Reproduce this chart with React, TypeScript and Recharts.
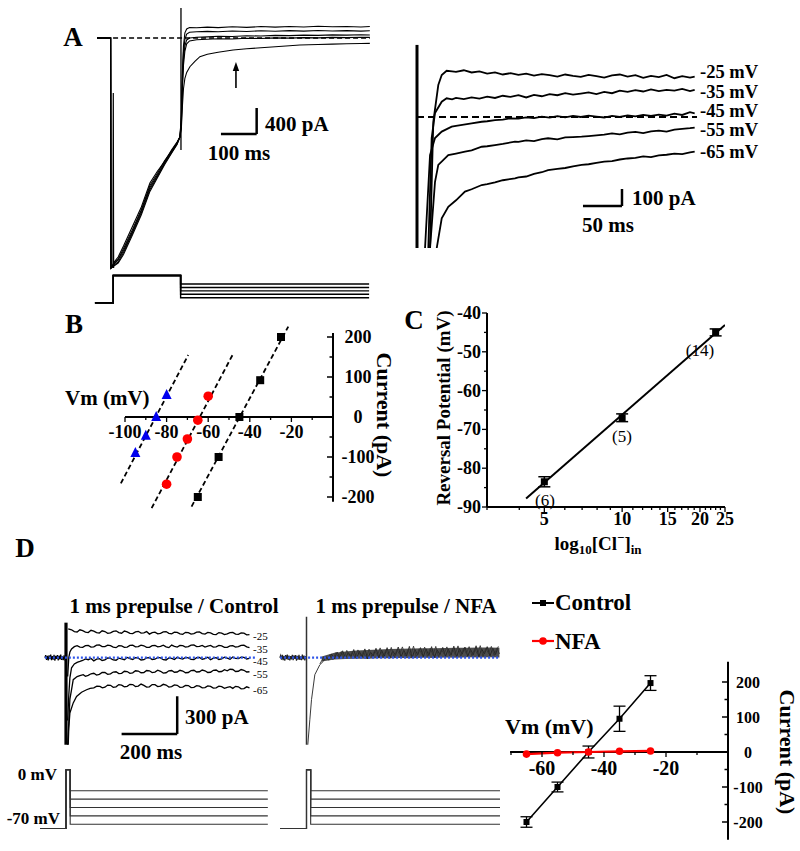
import React from 'react';
import { ComposedChart, XAxis, YAxis, Line, Area, Scatter, ErrorBar, ReferenceLine, ReferenceDot } from 'recharts';

const SERIF = "'Liberation Serif', 'Times New Roman', Times, serif";

// ================= DATA =================
// Panel A (left): whole-cell currents, t in ms, I in pA
const aLeftBaseline = [[-39, 0], [725, 0]];
const aLeft1 = [[-39, 0], [-30, 6], [-20, -5], [-10, 4], [-1, 0], [0, -3540], [10, -3440], [20, -3369], [35, -3200], [60, -2900], [85, -2600], [109, -2230], [130, -2050], [150, -1900], [170, -1720], [185, -1600], [193, -1523], [197, -1200], [200, -520], [203, -120], [207, 80], [212, 140], [220, 162], [240, 158], [270, 168], [300, 160], [340, 172], [380, 164], [420, 176], [460, 168], [500, 178], [540, 170], [580, 180], [620, 172], [660, 178], [700, 170], [725, 176]];
const aLeft2 = [[-39, 0], [-30, -4], [-20, 5], [-10, -3], [-1, 2], [0, -3540], [10, -3460], [20, -3400], [35, -3240], [60, -2950], [85, -2640], [109, -2270], [130, -2080], [150, -1890], [170, -1740], [185, -1610], [193, -1523], [197, -1250], [200, -600], [203, -220], [207, -20], [212, 60], [220, 88], [240, 96], [270, 102], [300, 96], [340, 108], [380, 100], [420, 112], [460, 104], [500, 114], [540, 106], [580, 116], [620, 108], [660, 114], [700, 106], [725, 112]];
const aLeft3 = [[-39, 0], [-25, 3], [-12, -3], [-1, 0], [0, -3540], [10, -3470], [20, -3415], [35, -3270], [60, -2980], [85, -2660], [109, -2300], [130, -2110], [150, -1920], [170, -1730], [185, -1620], [193, -1523], [197, -1300], [200, -700], [203, -330], [207, -120], [212, -30], [220, 0], [240, 12], [270, 18], [300, 26], [340, 22], [380, 34], [420, 30], [460, 40], [500, 36], [540, 44], [580, 40], [620, 48], [660, 44], [700, 50], [725, 46]];
const aLeft4 = [[-39, 0], [-28, -3], [-15, 4], [-1, 0], [0, -3540], [10, -3490], [20, -3446], [35, -3300], [60, -3000], [85, -2690], [109, -2330], [130, -2130], [150, -1930], [170, -1760], [185, -1630], [193, -1523], [197, -1350], [200, -800], [203, -420], [207, -200], [212, -90], [220, -45], [240, -28], [270, -20], [300, -12], [340, -16], [380, -4], [420, -8], [460, 2], [500, -2], [540, 6], [580, 2], [620, 10], [660, 6], [700, 12], [725, 10]];
const aLeft5 = [[-39, 0], [-22, 4], [-8, -3], [-1, 0], [0, -3540], [10, -3500], [20, -3462], [35, -3330], [60, -3030], [85, -2720], [109, -2360], [130, -2150], [150, -1950], [170, -1770], [185, -1640], [193, -1523], [197, -1400], [200, -1050], [203, -780], [207, -620], [212, -530], [221, -442], [235, -360], [249, -288], [270, -250], [300, -220], [342, -185], [380, -165], [420, -150], [460, -135], [500, -120], [529, -108], [580, -100], [620, -94], [660, -88], [700, -84], [725, -82]];
const aLeftArtifact1 = [[5.5, -3540], [6.4, -846], [7.4, -3540]];
const aLeftArtifact2 = [[196, 462], [196, -1723]];
const aArrow = { t: 350, from: -769, to: -480, head: -446 };
const aLeftScale = { t: 308, i: -1477, ms: 100, pA: 400 };

// Panel A protocol (mV)
const aProtoTimes = [-45, 6.4, 195, 723];
const aProtoHold = -80;
const aProtoPre = 0;
const testSteps = [-25, -35, -45, -55, -65];

// Panel A (right): tail currents
const aRightTransient = [[0, 424], [0, -800]];
const aRightBaseline = [[0, 0], [359, 0]];
const aR25 = [[14, -800], [16.7, -771], [20.9, -28], [27.3, 188], [31.7, 247], [38, 272], [45, 268], [50, 265], [60, 275], [70, 262], [80, 268], [90, 255], [100, 262], [110, 250], [120, 258], [130, 248], [140, 255], [150, 243], [160, 252], [170, 246], [180, 238], [190, 250], [200, 242], [210, 236], [220, 248], [230, 240], [240, 232], [250, 245], [260, 250], [270, 238], [280, 246], [290, 230], [300, 242], [310, 235], [320, 248], [330, 228], [340, 240], [350, 232], [356, 238]];
const aR35 = [[12, -800], [14.5, -771], [18.8, -124], [23.1, 24], [31.7, 90], [38, 110], [45, 104], [50, 112], [60, 105], [70, 115], [80, 108], [90, 120], [100, 112], [110, 125], [120, 118], [130, 128], [140, 115], [150, 130], [160, 122], [170, 135], [180, 128], [190, 140], [200, 132], [210, 138], [220, 145], [230, 135], [240, 148], [250, 140], [260, 155], [270, 148], [280, 158], [290, 150], [300, 162], [310, 152], [320, 160], [330, 155], [340, 165], [350, 152], [356, 160]];
const aR45 = [[8, -800], [10.3, -771], [16.7, -224], [23.1, -124], [31.7, -86], [44.5, -57], [50, -52], [60, -45], [70, -38], [83, -28], [90, -25], [100, -18], [110, -15], [120, -8], [130, -10], [140, -2], [150, -6], [160, 2], [170, -4], [180, 5], [190, -2], [200, 6], [210, 0], [220, 8], [230, 2], [240, -3], [250, 6], [260, 0], [270, 10], [280, 4], [290, 12], [300, 6], [310, 14], [320, 8], [330, 20], [340, 12], [350, 28], [356, 22]];
const aR55 = [[14, -800], [16.7, -771], [23.1, -381], [27.3, -282], [40.1, -224], [50, -215], [61.5, -204], [70, -196], [83, -175], [90, -172], [100, -165], [110, -158], [125.6, -145], [130, -146], [140, -138], [150, -142], [160, -130], [168, -125], [180, -132], [190, -120], [200, -118], [211, -116], [220, -112], [230, -108], [240, -104], [250, -96], [260, -102], [270, -92], [280, -88], [290, -95], [300, -84], [310, -80], [320, -86], [330, -74], [340, -70], [350, -66], [356, -62]];
const aR65 = [[24, -800], [25.3, -771], [31.7, -596], [40.1, -528], [50, -490], [61.5, -439], [70, -425], [83, -400], [90, -395], [100, -385], [110, -372], [125.6, -361], [130, -355], [140, -350], [150, -335], [160, -325], [168, -312], [180, -305], [190, -300], [200, -290], [211, -282], [220, -278], [230, -270], [240, -262], [250, -259], [260, -250], [270, -244], [280, -240], [290, -232], [300, -236], [310, -226], [320, -222], [330, -215], [340, -218], [350, -208], [356, -204]];
const aRightLabels = ['-25 mV', '-35 mV', '-45 mV', '-55 mV', '-65 mV'];
const aRightScale = { t: 212.8, i: -523.5, ms: 50, pA: 100 };

// Panel B: I-V relations (Vm mV, I pA)
const bBlack = [[-25, 200], [-35, 92], [-45, 0], [-55, -100], [-65, -200]];
const bRed = [[-60, 52], [-65, -8], [-70, -55], [-75, -100], [-80, -168]];
const bBlue = [[-80, 55], [-85, 0], [-90, -47], [-95, -90]];
const bFitBlack = [[-68, -224], [-21.5, 226]];
const bFitRed = [[-87.2, -228], [-47.9, 159]];
const bFitBlue = [[-102, -166], [-69.6, 155]];
const bXTicks = [-100, -90, -80, -70, -60, -50, -40, -30, -20, -10];
const bYTicks = [-200, -150, -100, -50, 0, 50, 100, 150, 200];

// Panel C: reversal potential vs [Cl-]in
const cConc = [5, 10, 23];
const cErev = [-83.5, -67, -45];
const cErr = [1.3, 1.0, 0.9];
const cN = ['(6)', '(5)', '(14)'];
const cFit = [[4.25, -87.8], [25, -43.1]];
const cXTicks = [3, 4, 5, 6, 7, 8, 9, 10, 11, 12, 13, 14, 15, 16, 17, 18, 19, 20, 21, 22, 23, 24, 25];
const cXMajor = [5, 10, 15, 20, 25];
const cYTicks = [-90, -85, -80, -75, -70, -65, -60, -55, -50, -45, -40];

// Panel D: 1 ms prepulse traces
const dCtrlBase = [[-76, 0], [-73, 20], [-70, -18], [-67, 15], [-64, -22], [-61, 18], [-58, -12], [-55, 24], [-52, -20], [-49, 12], [-46, -16], [-43, 22], [-40, -24], [-37, 14], [-34, -10], [-31, 20], [-28, -22], [-25, 16], [-22, -14], [-19, 24], [-16, -18], [-13, 10], [-10, -20], [-7, 18], [-4, -12], [-1, 6]];
const dCtrlTransient = [[0, 279], [0, -693]];
const dC25 = [[8, 230], [20, 222], [30, 208], [40, 205], [50, 222], [60, 215], [70, 204], [80, 200], [90, 218], [100, 212], [110, 200], [120, 196], [130, 214], [140, 208], [150, 194], [160, 198], [170, 210], [180, 214], [190, 200], [200, 195], [210, 212], [220, 206], [230, 194], [240, 192], [250, 206], [260, 210], [270, 196], [280, 198], [290, 208], [300, 188], [310, 200], [320, 204], [330, 190], [340, 194], [350, 206], [360, 208], [370, 194], [380, 190], [390, 204], [400, 202], [410, 190], [420, 186], [430, 202], [440, 200], [450, 188], [460, 192], [470, 204], [480, 206], [490, 192], [500, 188], [510, 202], [520, 198], [530, 186], [540, 184], [550, 200], [560, 196], [570, 184], [580, 190], [590, 200], [600, 202], [610, 188], [620, 186], [630, 198], [640, 195], [650, 182], [660, 184]];
const dC35 = [[6, -150], [10, 0], [14, 45], [20, 70], [30, 88], [40, 96], [50, 84], [60, 82], [70, 96], [80, 98], [90, 84], [100, 86], [110, 100], [120, 102], [130, 88], [140, 88], [150, 100], [160, 96], [170, 84], [180, 80], [190, 96], [200, 94], [210, 82], [220, 85], [230, 98], [240, 100], [250, 86], [260, 88], [270, 100], [280, 95], [290, 82], [300, 82], [310, 96], [320, 98], [330, 86], [340, 90], [350, 100], [360, 86], [370, 80], [380, 100], [390, 90], [400, 84], [410, 98], [420, 96], [430, 84], [440, 88], [450, 100], [460, 102], [470, 88], [480, 90], [490, 98], [500, 84], [510, 92], [520, 98], [530, 84], [540, 86], [550, 98], [560, 94], [570, 82], [580, 82], [590, 94], [600, 96], [610, 84], [620, 88], [630, 98], [640, 100], [650, 86], [660, 80]];
const dC45 = [[6, -500], [10, -300], [14, -160], [20, -80], [30, -50], [40, -37], [50, -30], [60, -22], [70, -10], [80, -16], [90, -6], [100, -25], [110, -12], [120, -8], [130, -22], [140, -18], [150, -2], [160, -5], [170, -18], [180, -20], [190, -4], [200, -10], [210, -16], [220, 2], [230, -8], [240, -14], [250, 0], [260, -4], [270, -18], [280, -16], [290, -2], [300, 0], [310, -14], [320, -12], [330, 2], [340, -2], [350, -16], [360, -18], [370, -2], [380, -6], [390, -14], [400, 4], [410, -6], [420, -10], [430, 2], [440, -2], [450, -14], [460, -15], [470, 0], [480, 2], [490, -12], [500, -8], [510, 4], [520, -16], [530, -4], [540, 0], [550, -14], [560, -10], [570, 4], [580, -4], [590, -12], [600, 6], [610, -6], [620, -8], [630, 4], [640, 2], [650, -10], [660, -6]];
const dC55 = [[6, -693], [10, -520], [14, -330], [20, -255], [26, -175], [40, -150], [50, -142], [62, -135], [70, -148], [80, -140], [90, -128], [100, -124], [110, -138], [120, -132], [130, -118], [140, -118], [150, -132], [160, -128], [170, -114], [180, -112], [190, -126], [200, -124], [210, -108], [220, -110], [230, -124], [240, -120], [250, -104], [260, -106], [270, -120], [280, -118], [290, -102], [300, -104], [310, -118], [320, -115], [330, -100], [340, -108], [350, -122], [360, -120], [370, -104], [380, -102], [390, -116], [400, -114], [410, -100], [420, -106], [430, -120], [440, -118], [450, -102], [460, -100], [470, -114], [480, -112], [490, -98], [500, -104], [510, -118], [520, -116], [530, -100], [540, -98], [550, -112], [560, -110], [570, -96], [580, -104], [590, -92], [600, -94], [610, -110], [620, -108], [630, -94], [640, -100], [650, -114], [660, -112]];
const dC65 = [[8, -693], [10, -560], [14, -440], [26, -360], [38, -308], [56, -275], [74, -255], [87, -244], [100, -240], [111, -226], [122, -228], [131, -240], [140, -235], [150, -218], [160, -220], [170, -236], [180, -232], [190, -214], [200, -218], [210, -232], [220, -228], [230, -212], [240, -214], [250, -230], [260, -226], [270, -210], [280, -220], [290, -234], [300, -232], [310, -214], [320, -215], [330, -230], [340, -226], [350, -212], [360, -218], [370, -234], [380, -230], [390, -216], [400, -220], [410, -236], [420, -234], [430, -220], [440, -222], [450, -238], [460, -236], [470, -222], [480, -226], [490, -240], [500, -238], [510, -224], [520, -228], [530, -242], [540, -240], [550, -226], [560, -230], [570, -244], [580, -236], [590, -230], [600, -244], [610, -228], [620, -232], [630, -248], [640, -246], [650, -232], [660, -240]];
const dCtrlZero = [[-76, 0], [680, 0]];
const dTraceLabels = ['-25', '-35', '-45', '-55', '-65'];
const dScale = { t: 200, i: -607, ms: 200, pA: 300 };

const dNfaBase = [[-96, 0], [-93, 18], [-90, -16], [-87, 22], [-84, -20], [-81, 14], [-78, -24], [-75, 20], [-72, -12], [-69, 24], [-66, -18], [-63, 16], [-60, -22], [-57, 12], [-54, -14], [-51, 22], [-48, -20], [-45, 18], [-42, -10], [-39, 20], [-36, -24], [-33, 14], [-30, -16], [-27, 22], [-24, -18], [-21, 10], [-18, -20], [-15, 24], [-12, -14], [-9, 16], [-6, -22], [-3, 12], [-1, -8]];
const dNfaTransient = [[0, 326], [0, -693]];
const dNfa1 = [[4.7, -693], [12, -494], [18, -334], [30, -135], [48, -56], [60, -30], [70, 10], [80, -20], [90, 30], [100, -10], [110, 45], [120, 0], [130, 55], [140, -5], [150, 40], [160, 10], [170, 65], [180, -8], [190, 50], [200, 5], [210, 70], [220, -10], [230, 45], [240, 15], [250, 75], [260, 0], [270, 60], [280, 12], [290, 80], [300, -5], [310, 55], [320, 20], [330, 85], [340, 5], [350, 60], [360, 15], [370, 90], [380, 0], [390, 65], [400, 22], [410, 80], [420, 8], [430, 70], [440, 18], [450, 88], [460, 2], [470, 62], [480, 25], [490, 82], [500, 10], [510, 68], [520, 20], [530, 92], [540, 5], [550, 72], [560, 28], [570, 85], [580, 12], [590, 66], [600, 24], [610, 95], [620, 8], [630, 70], [640, 30], [650, 88], [660, 14], [670, 75], [680, 26], [690, 90]];
const dNfa2 = [[48, -50], [62, 5], [75, -10], [85, 25], [95, -15], [105, 40], [115, 5], [125, 50], [135, -2], [145, 58], [155, 12], [165, 45], [175, 0], [185, 62], [195, 15], [205, 48], [215, -6], [225, 68], [235, 10], [245, 55], [255, 20], [265, 78], [275, 5], [285, 58], [295, 22], [305, 82], [315, 2], [325, 62], [335, 28], [345, 86], [355, 10], [365, 64], [375, 18], [385, 92], [395, 6], [405, 70], [415, 26], [425, 84], [435, 12], [445, 74], [455, 22], [465, 90], [475, 8], [485, 66], [495, 30], [505, 86], [515, 14], [525, 72], [535, 24], [545, 94], [555, 10], [565, 76], [575, 32], [585, 88], [595, 16], [605, 70], [615, 28], [625, 96], [635, 12], [645, 74], [655, 34], [665, 90], [675, 18], [685, 78], [694, 30]];
const dNfaBand = [[55, -30, 10], [100, -15, 40], [140, -10, 50], [180, -8, 58], [220, -8, 62], [260, -5, 66], [300, -4, 70], [340, -2, 72], [380, -4, 74], [420, 0, 76], [460, -2, 76], [500, 2, 78], [540, 0, 80], [580, 4, 80], [620, 2, 82], [660, 4, 82], [694, 2, 80]];
const dNfaZero = [[-95, 0], [696, 0]];

// Panel D protocol (mV)
const dProtoTimesCtrl = [-93, 0, 15, 726];
const dProtoTimesNfa = [-95, 0, 15, 696];
const dProtoHold = -70;
const dProtoPre = 0;

// Panel D: I-V (Control vs NFA)
const dVm = [-65, -55, -45, -35, -25];
const dCtrlI = [-200, -100, 0, 95, 197];
const dCtrlErr = [15, 14, 17, 36, 21];
const dNfaI = [-6, -2, 0, 2, 3];
const dXTicks = [-70, -60, -50, -40, -30, -20, -10];
const dYTicks = [-200, -150, -100, -50, 0, 50, 100, 150, 200];

// ================= HELPERS =================
const toPts = (a: number[][]) => a.map(([t, v]) => ({ t, v }));
const protoSeries = (times: number[], hold: number, pre: number, step: number) => [
  { t: times[0], v: hold }, { t: times[1], v: hold }, { t: times[1], v: pre },
  { t: times[2], v: pre }, { t: times[2], v: step }, { t: times[3], v: step },
];
const xDom = (left: number, width: number, zero: number, k: number): [number, number] => [(left - zero) / k, (left + width - zero) / k];
const yDom = (top: number, height: number, zero: number, k: number): [number, number] => [(zero - top - height) / k, (zero - top) / k];

type Box = { left: number; top: number; width: number; height: number };

function TraceBox({ box, xz, xk, yz, yk, children }: { box: Box; xz: number; xk: number; yz: number; yk: number; children: React.ReactNode }) {
  const xd = xDom(box.left, box.width, xz, xk);
  const yd = yDom(box.top, box.height, yz, yk);
  return (
    <div style={{ position: 'absolute', left: box.left, top: box.top, width: box.width, height: box.height }}>
      <ComposedChart width={box.width} height={box.height} margin={{ top: 0, right: 0, bottom: 0, left: 0 }}>
        <XAxis type="number" dataKey="t" domain={xd} allowDataOverflow hide />
        <YAxis type="number" domain={yd} allowDataOverflow hide />
        {children}
      </ComposedChart>
    </div>
  );
}

const trace = (key: string, data: number[][], stroke = '#000', width = 1.2, dash?: string) => (
  <Line key={key} data={toPts(data)} dataKey="v" type="linear" dot={false} isAnimationActive={false}
    stroke={stroke} strokeWidth={width} strokeDasharray={dash} />
);

const scaleBar = (key: string, s: { t: number; i: number; ms: number; pA: number }, w = 2.5) => [
  <ReferenceLine key={key + 'h'} segment={[{ x: s.t, y: s.i }, { x: s.t + s.ms, y: s.i }]} stroke="#000" strokeWidth={w} ifOverflow="visible" />,
  <ReferenceLine key={key + 'v'} segment={[{ x: s.t + s.ms, y: s.i - 1e-9 }, { x: s.t + s.ms, y: s.i + s.pA }]} stroke="#000" strokeWidth={w} ifOverflow="visible" />,
];

const tf = { fontFamily: SERIF, fontWeight: 700, fill: '#000' } as const;

const makeRightTick = (isMajor: (v: number) => boolean, dx: number, size: number) => (p: any) => {
  const v = p.payload.value;
  const m = isMajor(v);
  return (
    <g>
      <line x1={p.x} x2={p.x - (m ? 6 : 3.5)} y1={p.y} y2={p.y} stroke="#000" strokeWidth={1.5} />
      {m && <text x={p.x + dx} y={p.y} textAnchor="middle" dominantBaseline="central" fontSize={size} {...tf}>{v}</text>}
    </g>
  );
};
const makeBottomTick = (isMajor: (v: number) => boolean, dy: number, size: number) => (p: any) => {
  const v = p.payload.value;
  const m = isMajor(v);
  return (
    <g>
      <line x1={p.x} x2={p.x} y1={p.y} y2={p.y + (m ? 5 : 3)} stroke="#000" strokeWidth={1.3} />
      {m && <text x={p.x} y={p.y + dy} textAnchor="middle" dominantBaseline="central" fontSize={size} {...tf}>{v}</text>}
    </g>
  );
};
const makeLeftTick = (isMajor: (v: number) => boolean, dx: number, size: number) => (p: any) => {
  const v = p.payload.value;
  const m = isMajor(v);
  return (
    <g>
      <line x1={p.x} x2={p.x - (m ? 5 : 3)} y1={p.y} y2={p.y} stroke="#000" strokeWidth={1.3} />
      {m && <text x={p.x - dx} y={p.y} textAnchor="end" dominantBaseline="central" fontSize={size} {...tf}>{v}</text>}
    </g>
  );
};

const squareShape = (s: number, color: string) => (p: any) => <rect x={p.cx - s / 2} y={p.cy - s / 2} width={s} height={s} fill={color} />;
const circleShape = (r: number, color: string) => (p: any) => <circle cx={p.cx} cy={p.cy} r={r} fill={color} />;
const triShape = (s: number, color: string) => (p: any) => (
  <polygon points={`${p.cx},${p.cy - s * 0.6} ${p.cx - s / 2},${p.cy + s * 0.4} ${p.cx + s / 2},${p.cy + s * 0.4}`} fill={color} />
);

function T({ x, y, children, size = 21, bold = true, anchor = 'middle', rotate = 0 }: { x: number; y: number; children: React.ReactNode; size?: number; bold?: boolean; anchor?: 'start' | 'middle' | 'end'; rotate?: number }) {
  const tx = anchor === 'middle' ? '-50%' : anchor === 'end' ? '-100%' : '0%';
  return (
    <div style={{
      position: 'absolute', left: x, top: y, transform: `translate(${tx}, -50%)${rotate ? ` rotate(${rotate}deg)` : ''}`,
      fontFamily: SERIF, fontWeight: bold ? 700 : 400, fontSize: size, lineHeight: 1, whiteSpace: 'nowrap', color: '#000',
    }}>{children}</div>
  );
}

// IV chart with axes crossing at (0,0) on right side
function IVChart({ box, xz, xk, yz, yk, yAxisW, xAxisSpan, yAxisSpan, yTicks, yTick, xTicks, xTick, children }: any) {
  const plotW = box.width - yAxisW;
  const xd = xDom(box.left, plotW, xz, xk);
  const yd = yDom(box.top, box.height, yz, yk);
  const pad = 30;
  return (
    <>
      <div style={{ position: 'absolute', left: box.left, top: box.top }}>
        <ComposedChart width={box.width} height={box.height} margin={{ top: 0, right: 0, bottom: 0, left: 0 }}>
          <XAxis type="number" dataKey="t" domain={xd} allowDataOverflow hide />
          <YAxis type="number" orientation="right" width={yAxisW} domain={yd} allowDataOverflow axisLine={false} tickLine={false}
            tickSize={0} tickMargin={0} ticks={yTicks} interval={0} tick={yTick} />
          <ReferenceLine segment={[{ x: 0, y: yAxisSpan[0] }, { x: 0, y: yAxisSpan[1] }]} stroke="#000" strokeWidth={2} ifOverflow="visible" />
          <ReferenceLine segment={[{ x: xAxisSpan[0], y: 0 }, { x: xAxisSpan[1], y: 0 }]} stroke="#000" strokeWidth={2} ifOverflow="visible" />
          {children}
        </ComposedChart>
      </div>
      <div style={{ position: 'absolute', left: box.left - pad, top: yz - 10 }}>
        <ComposedChart width={plotW + 2 * pad} height={40} margin={{ top: 0, right: pad, bottom: 0, left: pad }}>
          <XAxis type="number" dataKey="t" domain={xd} allowDataOverflow height={30} axisLine={false} tickLine={false}
            tickSize={0} tickMargin={0} ticks={xTicks} interval={0} tick={xTick} />
          <YAxis type="number" domain={[0, 1]} hide />
          <Line data={[{ t: xd[0], v: 0 }, { t: xd[1], v: 0 }]} dataKey="v" stroke="none" dot={false} isAnimationActive={false} />
        </ComposedChart>
      </div>
    </>
  );
}

// ================= APP =================
export default function App() {
  const aLeftTraces = [aLeft1, aLeft2, aLeft3, aLeft4, aLeft5];
  const aRightTraces = [aR25, aR35, aR45, aR55, aR65];
  const dCtrlTraces = [dC25, dC35, dC45, dC55, dC65];
  const bBlackPts = toPts(bBlack), bRedPts = toPts(bRed), bBluePts = toPts(bBlue);
  const cPts = cConc.map((c, i) => ({ t: c, v: cErev[i], e: cErr[i] }));
  const dCtrlPts = dVm.map((v, i) => ({ t: v, v: dCtrlI[i], e: dCtrlErr[i] }));
  const dNfaPts = dVm.map((v, i) => ({ t: v, v: dNfaI[i] }));
  const dNfaBandPts = dNfaBand.map(([t, lo, hi]) => ({ t, r: [lo, hi] }));

  return (
    <div style={{ position: 'absolute', left: 0, top: 0, width: 800, height: 851, background: '#fff', overflow: 'hidden' }}>
      {/* ---------- Panel A left ---------- */}
      <TraceBox box={{ left: 90, top: 0, width: 290, height: 275 }} xz={111} xk={0.357} yz={38} yk={0.065}>
        {trace('abase', aLeftBaseline, '#000', 1.6, '5 3')}
        {aLeftTraces.map((d, i) => trace('al' + i, d, '#000', 1.1))}
        {trace('aart1', aLeftArtifact1, '#000', 1.2)}
        {trace('aart2', aLeftArtifact2, '#000', 1.3)}
        <ReferenceLine segment={[{ x: aArrow.t, y: aArrow.from }, { x: aArrow.t, y: aArrow.to }]} stroke="#000" strokeWidth={1.6} ifOverflow="visible" />
        <ReferenceDot x={aArrow.t} y={aArrow.head} ifOverflow="visible"
          shape={(p: any) => <polygon points={`${p.cx},${p.cy - 5} ${p.cx - 3.2},${p.cy + 4} ${p.cx + 3.2},${p.cy + 4}`} fill="#000" />} />
        {scaleBar('asb', aLeftScale, 2.5)}
      </TraceBox>
      <TraceBox box={{ left: 90, top: 265, width: 290, height: 45 }} xz={111} xk={0.357} yz={275.44} yk={0.3425}>
        {testSteps.map((s, i) => (
          <Line key={'ap' + i} data={protoSeries(aProtoTimes, aProtoHold, aProtoPre, s)} dataKey="v" type="linear" dot={false}
            isAnimationActive={false} stroke="#000" strokeWidth={1.4} />
        ))}
      </TraceBox>
      <T x={73} y={37} size={27}>A</T>
      <T x={265} y={124} anchor="start">400 pA</T>
      <T x={239} y={153}>100 ms</T>

      {/* ---------- Panel A right ---------- */}
      <TraceBox box={{ left: 410, top: 40, width: 290, height: 208 }} xz={417} xk={0.78} yz={117} yk={0.17}>
        {trace('art', aRightTransient, '#000', 3)}
        {aRightTraces.map((d, i) => trace('ar' + i, d, '#000', 1.8))}
        {trace('arb', aRightBaseline, '#000', 2, '7 4')}
        {scaleBar('arsb', aRightScale, 2.5)}
      </TraceBox>
      {aRightLabels.map((l, i) => (
        <T key={l} x={700} y={[72, 92, 111, 130, 152][i]} size={18.5} anchor="start">{l}</T>
      ))}
      <T x={632} y={198} anchor="start">100 pA</T>
      <T x={608} y={225}>50 ms</T>

      {/* ---------- Panel B ---------- */}
      <IVChart box={{ left: 115, top: 323, width: 263, height: 188 }} xz={333} xk={2.08} yz={417} yk={0.4} yAxisW={45}
        xAxisSpan={[-100, 0]} yAxisSpan={[-212, 210]} yTicks={bYTicks} xTicks={bXTicks}
        yTick={makeRightTick((v) => v % 100 === 0, 25, 18)} xTick={makeBottomTick((v) => v % 20 === 0, 15, 18)}>
        {trace('bfb', bFitBlack, '#000', 1.8, '5 3')}
        {trace('bfr', bFitRed, '#000', 1.8, '5 3')}
        {trace('bfu', bFitBlue, '#000', 1.8, '5 3')}
        <Scatter data={bBlackPts} dataKey="v" isAnimationActive={false} shape={squareShape(8, '#000')} />
        <Scatter data={bRedPts} dataKey="v" isAnimationActive={false} shape={circleShape(4.8, '#ff0000')} />
        <Scatter data={bBluePts} dataKey="v" isAnimationActive={false} shape={triShape(10, '#0000ee')} />
      </IVChart>
      <T x={74} y={324} size={27}>B</T>
      <T x={65} y={398} anchor="start">Vm (mV)</T>
      <T x={384} y={415} rotate={90} size={22}>Current (pA)</T>

      {/* ---------- Panel C ---------- */}
      <div style={{ position: 'absolute', left: 430, top: 300 }}>
        <ComposedChart width={310} height={250} margin={{ top: 13, right: 15, bottom: 0, left: 0 }}>
          <XAxis type="number" dataKey="t" scale="log" domain={[3, 25]} allowDataOverflow height={43} ticks={cXTicks} interval={0}
            axisLine={{ stroke: '#000', strokeWidth: 2 }} tickLine={false} tickSize={0} tickMargin={0}
            tick={makeBottomTick((v) => cXMajor.includes(v), 12, 18)} />
          <YAxis type="number" domain={[-90, -40]} allowDataOverflow width={57} ticks={cYTicks} interval={0}
            axisLine={{ stroke: '#000', strokeWidth: 2 }} tickLine={false} tickSize={0} tickMargin={0}
            tick={makeLeftTick((v) => v % 10 === 0, 6, 18)} />
          {trace('cfit', cFit, '#000', 2)}
          <Scatter data={cPts} dataKey="v" isAnimationActive={false} shape={squareShape(7, '#000')}>
            <ErrorBar dataKey="e" direction="y" width={6} stroke="#000" strokeWidth={1.5} />
          </Scatter>
        </ComposedChart>
      </div>
      <T x={414} y={320} size={27}>C</T>
      <T x={443} y={408} rotate={-90} size={19}>Reversal Potential (mV)</T>
      <T x={598} y={543} size={19}>
        log<sub style={{ fontSize: 13, lineHeight: 0 }}>10</sub>[Cl<sup style={{ fontSize: 13, lineHeight: 0 }}>−</sup>]<sub style={{ fontSize: 13, lineHeight: 0 }}>in</sub>
      </T>
      {cN.map((n, i) => (
        <T key={n} x={[545, 622, 700][i]} y={[500, 436, 350][i]} size={17} bold={false}>{n}</T>
      ))}

      {/* ---------- Panel D traces ---------- */}
      <TraceBox box={{ left: 40, top: 615, width: 235, height: 135 }} xz={66} xk={0.278} yz={657.7} yk={0.1256}>
        {trace('dcb', dCtrlBase, '#000', 1.2)}
        {trace('dct', dCtrlTransient, '#000', 3.2)}
        {dCtrlTraces.map((d, i) => trace('dc' + i, d, '#000', 1.3))}
        {trace('dcz', dCtrlZero, '#2f55e8', 2.2, '2 2')}
        {scaleBar('dsb', dScale, 2.5)}
      </TraceBox>
      <TraceBox box={{ left: 275, top: 610, width: 230, height: 140 }} xz={306.5} xk={0.278} yz={657.7} yk={0.1256}>
        <Area data={dNfaBandPts} dataKey="r" type="linear" stroke="none" fill="#3a3a3a" fillOpacity={0.9} isAnimationActive={false} />
        {trace('dnb', dNfaBase, '#222', 1.2)}
        {trace('dnt', dNfaTransient, '#333', 1.5)}
        {trace('dn1', dNfa1, '#222', 0.9)}
        {trace('dn2', dNfa2, '#333', 0.9)}
        {trace('dnz', dNfaZero, '#2f55e8', 2.2, '2 2')}
      </TraceBox>
      <TraceBox box={{ left: 35, top: 765, width: 240, height: 68 }} xz={66} xk={0.278} yz={769.7} yk={0.84}>
        {testSteps.map((s, i) => (
          <Line key={'dpc' + i} data={protoSeries(dProtoTimesCtrl, dProtoHold, dProtoPre, s)} dataKey="v" type="linear" dot={false}
            isAnimationActive={false} stroke="#333" strokeWidth={1.1} />
        ))}
      </TraceBox>
      <TraceBox box={{ left: 275, top: 765, width: 230, height: 68 }} xz={306.5} xk={0.278} yz={769.7} yk={0.84}>
        {testSteps.map((s, i) => (
          <Line key={'dpn' + i} data={protoSeries(dProtoTimesNfa, dProtoHold, dProtoPre, s)} dataKey="v" type="linear" dot={false}
            isAnimationActive={false} stroke="#333" strokeWidth={1.1} />
        ))}
      </TraceBox>
      <T x={25} y={548} size={27}>D</T>
      <T x={174} y={606}>1 ms prepulse / Control</T>
      <T x={406} y={606}>1 ms prepulse / NFA</T>
      {dTraceLabels.map((l, i) => (
        <T key={l} x={253} y={[636, 649, 661, 674, 690][i]} size={11} bold={false} anchor="start">{l}</T>
      ))}
      <T x={185} y={717} anchor="start">300 pA</T>
      <T x={151} y={752}>200 ms</T>
      <T x={57} y={774} size={17} anchor="end">0 mV</T>
      <T x={60} y={818} size={17} anchor="end">-70 mV</T>

      {/* ---------- Panel D IV ---------- */}
      <IVChart box={{ left: 505, top: 655, width: 263, height: 190 }} xz={728} xk={3.1} yz={752} yk={0.35} yAxisW={40}
        xAxisSpan={[-70.3, 0]} yAxisSpan={[-251, 258]} yTicks={dYTicks} xTicks={dXTicks}
        yTick={makeRightTick((v) => v % 100 === 0, 20, 16)} xTick={makeBottomTick((v) => v % 20 === 0, 16, 20)}>
        <Line data={dCtrlPts} dataKey="v" type="linear" dot={false} isAnimationActive={false} stroke="#000" strokeWidth={1.6} />
        <Scatter data={dCtrlPts} dataKey="v" isAnimationActive={false} shape={squareShape(6, '#000')}>
          <ErrorBar dataKey="e" direction="y" width={6} stroke="#000" strokeWidth={1.3} />
        </Scatter>
        <Line data={dNfaPts} dataKey="v" type="linear" dot={false} isAnimationActive={false} stroke="#ff0000" strokeWidth={2.2} />
        <Scatter data={dNfaPts} dataKey="v" isAnimationActive={false} shape={circleShape(3.8, '#ff0000')} />
      </IVChart>
      <svg style={{ position: 'absolute', left: 530, top: 595 }} width={26} height={55}>
        <line x1={2} x2={24} y1={8} y2={8} stroke="#000" strokeWidth={2} />
        <rect x={10} y={5} width={6} height={6} fill="#000" />
        <line x1={2} x2={24} y1={46} y2={46} stroke="#ff0000" strokeWidth={2.2} />
        <circle cx={13} cy={46} r={3.8} fill="#ff0000" />
      </svg>
      <T x={555} y={602} size={23} anchor="start">Control</T>
      <T x={555} y={641} size={23} anchor="start">NFA</T>
      <T x={505} y={727} size={22} anchor="start">Vm (mV)</T>
      <T x={787} y={752} rotate={90} size={22}>Current (pA)</T>
    </div>
  );
}
